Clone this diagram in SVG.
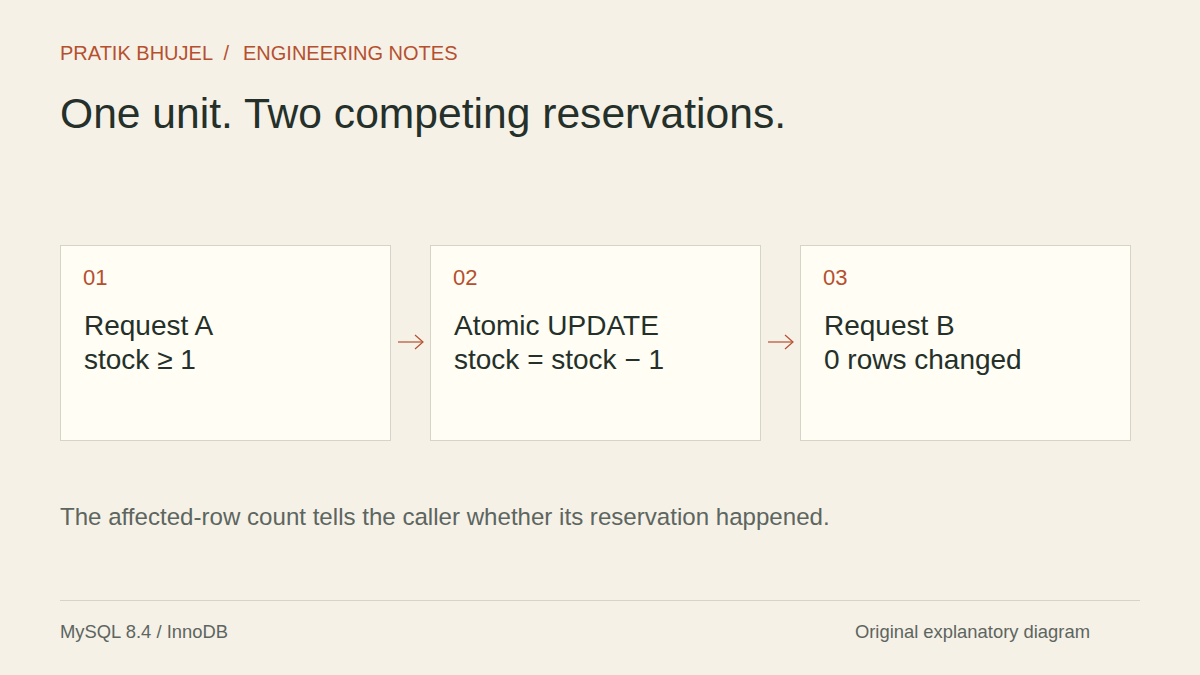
<svg xmlns="http://www.w3.org/2000/svg" width="1200" height="675" viewBox="0 0 1200 675">
<style>
text{font-family:"Liberation Sans",Arial,sans-serif}
.kicker{font-size:20px;fill:#b5502f}
.title{font-size:42.6px;fill:#243029}
.box{fill:#fffdf4;stroke:#d6d4c6;stroke-width:1}
.num{font-size:22px;fill:#b5502f}
.body{font-size:28px;fill:#243029}
.cap{font-size:24.1px;fill:#5d655f}
.foot{font-size:18.4px;fill:#5d655f}
.conn{stroke:#b5502f;stroke-width:1.2;fill:none}
</style>
<defs>
<marker id="ah" viewBox="0 0 10 16" refX="9" refY="8" markerWidth="10" markerHeight="16" markerUnits="userSpaceOnUse" orient="auto">
<path d="M1,1 L9,8 L1,15" fill="none" stroke="#b5502f" stroke-width="1.2"/>
</marker>
</defs>
<rect width="1200" height="675" fill="#f5f1e7"/>
<text class="kicker" y="60"><tspan x="60">PRATIK BHUJEL</tspan><tspan x="223.5">/</tspan><tspan x="243">ENGINEERING NOTES</tspan></text>
<text class="title" x="60" y="128">One unit. Two competing reservations.</text>
<g id="node1">
<rect class="box" x="60.5" y="245.5" width="330" height="195"/>
<text class="num" x="83" y="285">01</text>
<text class="body" x="84" y="335">Request A</text>
<text class="body" x="84" y="369">stock ≥ 1</text>
</g>
<g id="node2">
<rect class="box" x="430.5" y="245.5" width="330" height="195"/>
<text class="num" x="453" y="285">02</text>
<text class="body" x="454" y="335">Atomic UPDATE</text>
<text class="body" x="454" y="369">stock = stock − 1</text>
</g>
<g id="node3">
<rect class="box" x="800.5" y="245.5" width="330" height="195"/>
<text class="num" x="823" y="285">03</text>
<text class="body" x="824" y="335">Request B</text>
<text class="body" x="824" y="369">0 rows changed</text>
</g>
<g id="connectors">
<line class="conn" x1="398" y1="342" x2="423" y2="342" marker-end="url(#ah)"/>
<line class="conn" x1="768" y1="342" x2="793" y2="342" marker-end="url(#ah)"/>
</g>
<text class="cap" x="60" y="525">The affected-row count tells the caller whether its reservation happened.</text>
<line x1="60" y1="600.5" x2="1140" y2="600.5" stroke="#d6d4c6" stroke-width="1"/>
<text class="foot" x="60" y="638">MySQL 8.4 / InnoDB</text>
<text class="foot" x="1090" y="638" text-anchor="end">Original explanatory diagram</text>
</svg>
